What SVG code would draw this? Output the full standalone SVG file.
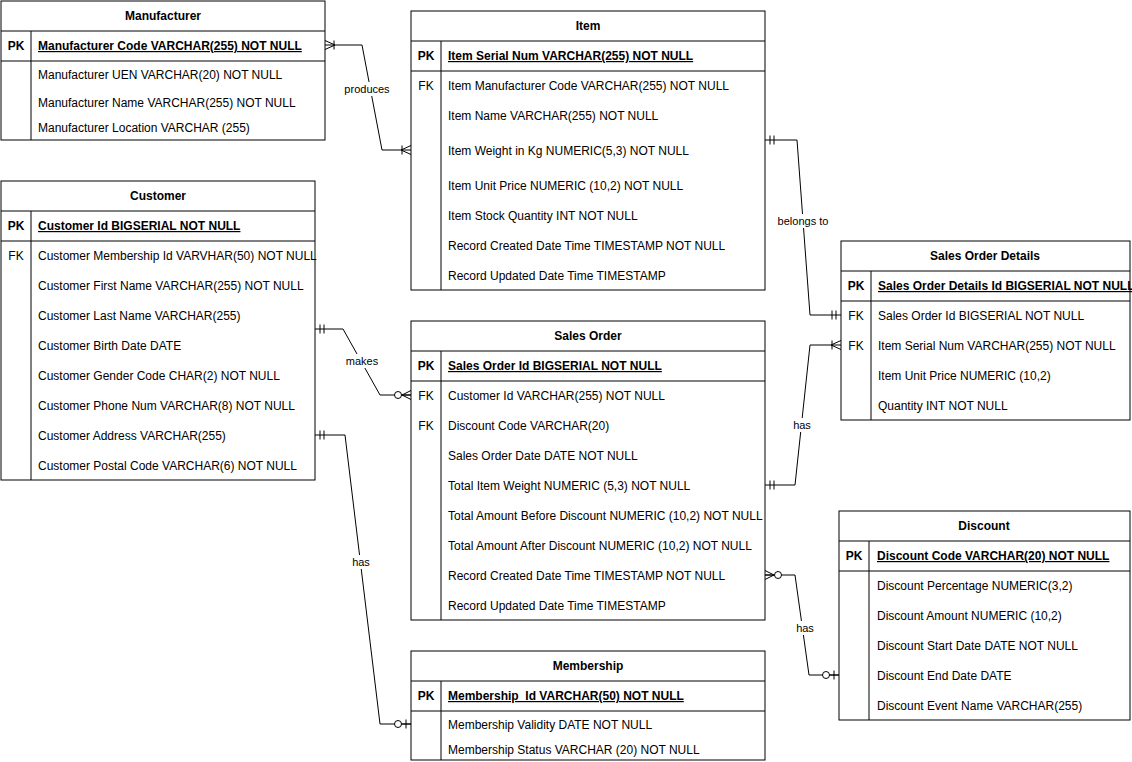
<svg xmlns="http://www.w3.org/2000/svg" width="1132" height="762" viewBox="0 0 1132 762">
<style>
.box{fill:#fff;stroke:#000;stroke-width:1}
.ln{stroke:#000;stroke-width:1;fill:none}
text{font-family:"Liberation Sans",Arial,sans-serif;font-size:12px;fill:#000}
.h{font-weight:bold;text-anchor:middle}
.pk{font-weight:bold;text-anchor:middle}
.pkf{font-weight:bold;text-decoration:underline}
.fk{text-anchor:middle}
.lbl{font-size:11px;text-anchor:middle}
.conn{stroke:#000;stroke-width:1;fill:none}
</style>
<defs>
<marker id="mandOne" markerUnits="userSpaceOnUse" orient="auto-start-reverse" refX="0" refY="0" markerWidth="20" markerHeight="20" overflow="visible">
<path d="M-5,-4.5V4.5M-9,-4.5V4.5" stroke="#000" fill="none"/>
</marker>
<marker id="oneMany" markerUnits="userSpaceOnUse" orient="auto-start-reverse" refX="0" refY="0" markerWidth="20" markerHeight="20" overflow="visible">
<path d="M0,-4.5L-10,0L0,4.5M-9,-4.5V4.5" stroke="#000" fill="none"/>
</marker>
<marker id="zeroMany" markerUnits="userSpaceOnUse" orient="auto-start-reverse" refX="0" refY="0" markerWidth="20" markerHeight="20" overflow="visible">
<path d="M0,-4.5L-9,0L0,4.5M0,0H-9" stroke="#000" fill="none"/>
<circle cx="-13" cy="0" r="3.5" fill="#fff" stroke="#000"/>
</marker>
<marker id="zeroOne" markerUnits="userSpaceOnUse" orient="auto-start-reverse" refX="0" refY="0" markerWidth="20" markerHeight="20" overflow="visible">
<path d="M-5,-4.5V4.5M0,0H-9" stroke="#000" fill="none"/>
<circle cx="-13" cy="0" r="3.5" fill="#fff" stroke="#000"/>
</marker>
</defs>
<rect width="1132" height="762" fill="#fff"/>

<g id="connectors">
<path class="conn" d="M325,45H362L382,150H411" marker-start="url(#oneMany)" marker-end="url(#oneMany)"/>
<path class="conn" d="M765,140H797L810,315H841" marker-start="url(#mandOne)" marker-end="url(#mandOne)"/>
<path class="conn" d="M765,485H795L810,345H841" marker-start="url(#mandOne)" marker-end="url(#oneMany)"/>
<path class="conn" d="M315,329H343L380,395H411" marker-start="url(#mandOne)" marker-end="url(#zeroMany)"/>
<path class="conn" d="M315,435H345L380,724H411" marker-start="url(#mandOne)" marker-end="url(#zeroOne)"/>
<path class="conn" d="M765,575H795L809,675H839" marker-start="url(#zeroMany)" marker-end="url(#zeroOne)"/>
<rect x="343" y="82" width="48" height="14" fill="#fff"/>
<text class="lbl" x="367" y="93">produces</text>
<rect x="776" y="214" width="54" height="14" fill="#fff"/>
<text class="lbl" x="803" y="225">belongs to</text>
<rect x="792" y="418" width="20" height="14" fill="#fff"/>
<text class="lbl" x="802" y="429">has</text>
<rect x="344" y="354" width="36" height="14" fill="#fff"/>
<text class="lbl" x="362" y="365">makes</text>
<rect x="351" y="555" width="20" height="14" fill="#fff"/>
<text class="lbl" x="361" y="566">has</text>
<rect x="795" y="621" width="20" height="14" fill="#fff"/>
<text class="lbl" x="805" y="632">has</text>
</g>

<g id="manufacturer">
<rect class="box" x="1" y="1" width="324" height="139"/>
<path class="ln" d="M1,31H325M1,61H325M31,31V140"/>
<text class="h" x="163" y="20">Manufacturer</text>
<text class="pk" x="16" y="50">PK</text>
<text class="pkf" x="38" y="50">Manufacturer Code VARCHAR(255) NOT NULL</text>
<text x="38" y="79">Manufacturer UEN VARCHAR(20) NOT NULL</text>
<text x="38" y="107">Manufacturer Name VARCHAR(255) NOT NULL</text>
<text x="38" y="132">Manufacturer Location VARCHAR (255)</text>
</g>

<g id="item">
<rect class="box" x="411" y="11" width="354" height="279"/>
<path class="ln" d="M411,41H765M411,71H765M441,41V290"/>
<text class="h" x="588" y="30">Item</text>
<text class="pk" x="426" y="60">PK</text>
<text class="pkf" x="448" y="60">Item Serial Num VARCHAR(255) NOT NULL</text>
<text class="fk" x="426" y="90">FK</text>
<text x="448" y="90">Item Manufacturer Code VARCHAR(255) NOT NULL</text>
<text x="448" y="120">Item Name VARCHAR(255) NOT NULL</text>
<text x="448" y="155">Item Weight in Kg NUMERIC(5,3) NOT NULL</text>
<text x="448" y="190">Item Unit Price NUMERIC (10,2) NOT NULL</text>
<text x="448" y="220">Item Stock Quantity INT NOT NULL</text>
<text x="448" y="250">Record Created Date Time TIMESTAMP NOT NULL</text>
<text x="448" y="280">Record Updated Date Time TIMESTAMP</text>
</g>

<g id="customer">
<rect class="box" x="1" y="181" width="314" height="299"/>
<path class="ln" d="M1,211H315M1,241H315M31,211V480"/>
<text class="h" x="158" y="200">Customer</text>
<text class="pk" x="16" y="230">PK</text>
<text class="pkf" x="38" y="230">Customer Id BIGSERIAL NOT NULL</text>
<text class="fk" x="16" y="260">FK</text>
<text x="38" y="260">Customer Membership Id VARVHAR(50) NOT NULL</text>
<text x="38" y="290">Customer First Name VARCHAR(255) NOT NULL</text>
<text x="38" y="320">Customer Last Name VARCHAR(255)</text>
<text x="38" y="350">Customer Birth Date DATE</text>
<text x="38" y="380">Customer Gender Code CHAR(2) NOT NULL</text>
<text x="38" y="410">Customer Phone Num VARCHAR(8) NOT NULL</text>
<text x="38" y="440">Customer Address VARCHAR(255)</text>
<text x="38" y="470">Customer Postal Code VARCHAR(6) NOT NULL</text>
</g>

<g id="sales-order">
<rect class="box" x="411" y="321" width="354" height="299"/>
<path class="ln" d="M411,351H765M411,381H765M441,351V620"/>
<text class="h" x="588" y="340">Sales Order</text>
<text class="pk" x="426" y="370">PK</text>
<text class="pkf" x="448" y="370">Sales Order Id BIGSERIAL NOT NULL</text>
<text class="fk" x="426" y="400">FK</text>
<text x="448" y="400">Customer Id VARCHAR(255) NOT NULL</text>
<text class="fk" x="426" y="430">FK</text>
<text x="448" y="430">Discount Code VARCHAR(20)</text>
<text x="448" y="460">Sales Order Date DATE NOT NULL</text>
<text x="448" y="490">Total Item Weight NUMERIC (5,3) NOT NULL</text>
<text x="448" y="520">Total Amount Before Discount NUMERIC (10,2) NOT NULL</text>
<text x="448" y="550">Total Amount After Discount NUMERIC (10,2) NOT NULL</text>
<text x="448" y="580">Record Created Date Time TIMESTAMP NOT NULL</text>
<text x="448" y="610">Record Updated Date Time TIMESTAMP</text>
</g>

<g id="sales-order-details">
<rect class="box" x="841" y="241" width="289" height="179"/>
<path class="ln" d="M841,271H1130M841,301H1130M871,271V420"/>
<text class="h" x="985" y="260">Sales Order Details</text>
<text class="pk" x="856" y="290">PK</text>
<text class="pkf" x="878" y="290">Sales Order Details Id BIGSERIAL NOT NULL</text>
<text class="fk" x="856" y="320">FK</text>
<text x="878" y="320">Sales Order Id BIGSERIAL NOT NULL</text>
<text class="fk" x="856" y="350">FK</text>
<text x="878" y="350">Item Serial Num VARCHAR(255) NOT NULL</text>
<text x="878" y="380">Item Unit Price NUMERIC (10,2)</text>
<text x="878" y="410">Quantity INT NOT NULL</text>
</g>

<g id="discount">
<rect class="box" x="839" y="511" width="291" height="209"/>
<path class="ln" d="M839,541H1130M839,571H1130M869,541V720"/>
<text class="h" x="984" y="530">Discount</text>
<text class="pk" x="854" y="560">PK</text>
<text class="pkf" x="877" y="560">Discount Code VARCHAR(20) NOT NULL</text>
<text x="877" y="590">Discount Percentage NUMERIC(3,2)</text>
<text x="877" y="620">Discount Amount NUMERIC (10,2)</text>
<text x="877" y="650">Discount Start Date DATE NOT NULL</text>
<text x="877" y="680">Discount End Date DATE</text>
<text x="877" y="710">Discount Event Name VARCHAR(255)</text>
</g>

<g id="membership">
<rect class="box" x="411" y="651" width="354" height="109"/>
<path class="ln" d="M411,681H765M411,711H765M441,681V760"/>
<text class="h" x="588" y="670">Membership</text>
<text class="pk" x="426" y="700">PK</text>
<text class="pkf" x="448" y="700">Membership_Id VARCHAR(50) NOT NULL</text>
<text x="448" y="729">Membership Validity DATE NOT NULL</text>
<text x="448" y="754">Membership Status VARCHAR (20) NOT NULL</text>
</g>
</svg>
